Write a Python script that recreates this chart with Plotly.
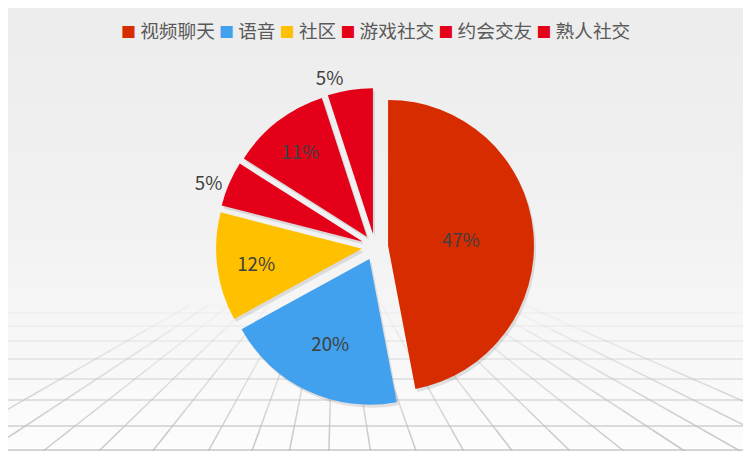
import plotly.graph_objects as go

#################
# Data
#################
categories = ["视频聊天", "语音", "社区", "游戏社交", "约会交友", "熟人社交"]
shares = [47, 20, 12, 5, 11, 5]
slice_colors = ["#D72B00", "#42A1EE", "#FFC000", "#E5001A", "#E5001A", "#E5001A"]
label_pos = ["inside", "inside", "inside", "outside", "inside", "outside"]

W, H = 751, 451
OFF = 8  # the page body margin shifts the whole figure by 8px
M_T, M_B = 88 - OFF, 42 + OFF
PLOT_H = H - M_T - M_B


# page pixel (from top) -> paper y
def py(p):
    return (H - M_B - (p - OFF)) / PLOT_H


# page pixel (from left) -> paper x
def px(p):
    return (p - OFF) / W


#################
# Background: soft gradient + perspective floor grid
#################
shapes = []
n_bands = 40
for i in range(n_bands):
    t0 = i / n_bands
    t1 = (i + 1) / n_bands
    g = int(round(237 + (253 - 237) * (((t0 + t1) / 2) ** 1.6)))
    shapes.append(dict(
        type="rect", xref="paper", yref="paper", layer="below",
        x0=-0.02, x1=1.02, y0=py(t1 * (H + OFF) + 1), y1=py(t0 * (H + OFF)),
        fillcolor="rgb(%d,%d,%d)" % (g, g, g), line=dict(width=0),
    ))


def fade(p):
    # grid fades out towards the horizon
    a = (p - 300) / (451 - 300)
    return max(0.0, min(1.0, a)) ** 0.9


horizon_lines = [313, 326, 341, 359, 379, 400, 426, 450]
for yl in horizon_lines:
    a = fade(yl)
    shapes.append(dict(
        type="line", xref="paper", yref="paper", layer="below",
        x0=-0.02, x1=1.02, y0=py(yl), y1=py(yl),
        line=dict(color="rgba(205,205,205,%.2f)" % (a * 0.85), width=2),
    ))

vx, vy = 335, 222
floor_x = [-60, -8, 47, 102, 155, 210, 253, 290, 329, 370, 415, 462, 510, 567,
           620, 680, 735, 790, 850]
for xb in floor_x:
    steps = [455, 430, 410, 390, 370, 350, 330, 305]
    for s0, s1 in zip(steps[:-1], steps[1:]):
        x0 = vx + (xb - vx) * (s0 - vy) / (448 - vy)
        x1 = vx + (xb - vx) * (s1 - vy) / (448 - vy)
        a = fade(min(451, (s0 + s1) / 2))
        shapes.append(dict(
            type="line", xref="paper", yref="paper", layer="below",
            x0=px(x0), x1=px(x1), y0=py(s0), y1=py(s1),
            line=dict(color="rgba(190,190,190,%.2f)" % (a * 0.85), width=1.5),
        ))

#################
# Legend as one line of text
#################
legend_parts = []
for name, col in zip(categories, slice_colors):
    legend_parts.append(
        '<span style="color:%s;font-size:15px">■</span> %s' % (col, name)
    )
legend_text = " ".join(legend_parts)

#################
# Pie (with a faint drop shadow underneath)
#################
off_y = 3 / PLOT_H
off_x = 2 / W
dom_w = 2 * (375 - OFF) / W  # pie centred at page x = 375

fig = go.Figure()

fig.add_trace(go.Pie(
    labels=categories,
    values=shares,
    sort=False,
    direction="clockwise",
    rotation=0,
    pull=0.09,
    marker=dict(colors=["rgba(0,0,0,0.10)"] * len(shares), line=dict(width=0)),
    textinfo="none",
    hoverinfo="skip",
    showlegend=False,
    automargin=False,
    domain=dict(x=[off_x, dom_w + off_x], y=[0, 1 - off_y]),
))

fig.add_trace(go.Pie(
    labels=categories,
    values=shares,
    sort=False,
    direction="clockwise",
    rotation=0,
    pull=0.09,
    marker=dict(colors=slice_colors, line=dict(width=0)),
    textinfo="percent",
    textposition=label_pos,
    insidetextorientation="horizontal",
    textfont=dict(size=18.67, color="#404040", family="Noto Sans CJK SC"),
    insidetextfont=dict(size=18.67, color="#404040"),
    outsidetextfont=dict(size=18.67, color="#404040"),
    showlegend=False,
    automargin=False,
    domain=dict(x=[0, dom_w], y=[off_y, 1]),
))

fig.update_layout(
    width=W,
    height=H,
    autosize=False,
    margin=dict(l=0, r=0, t=M_T, b=M_B, pad=0, autoexpand=False),
    paper_bgcolor="#efefef",
    plot_bgcolor="#efefef",
    font=dict(family="Noto Sans CJK SC", color="#595959", size=18.67),
    shapes=shapes,
    showlegend=False,
    annotations=[dict(
        text=legend_text,
        xref="paper", yref="paper",
        x=px(375), y=py(30), xanchor="center", yanchor="middle",
        showarrow=False,
        font=dict(size=18.67, color="#595959", family="Noto Sans CJK SC"),
    )],
)

fig.write_html("out.html")
